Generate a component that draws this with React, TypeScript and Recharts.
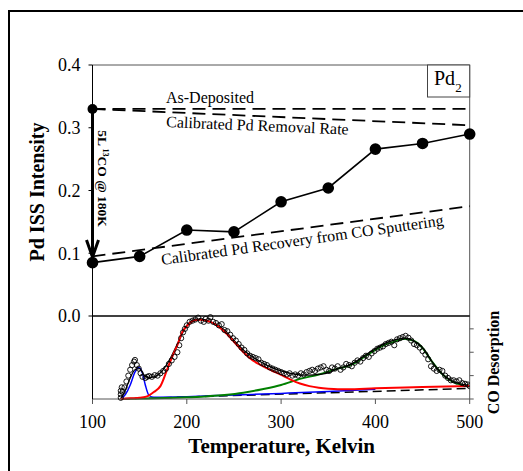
import React from "react";
import {
  LineChart,
  Line,
  XAxis,
  YAxis,
  ReferenceLine,
  ComposedChart,
  Scatter,
} from "recharts";

const FONT = "'Liberation Serif', 'Times New Roman', serif";

// upper panel: Pd ISS intensity vs temperature
const temps = [100, 150, 200, 250, 300, 350, 400, 450, 500];
const pdIss = [0.085, 0.095, 0.137, 0.134, 0.182, 0.204, 0.266, 0.275, 0.29];

const asDeposited = [
  { t: 100, v: 0.33 },
  { t: 500, v: 0.33 },
];
const removalRate = [
  { t: 100, v: 0.33 },
  { t: 500, v: 0.304 },
];
const recovery = [
  { t: 100, v: 0.095 },
  { t: 500, v: 0.175 },
];
const coDose = [
  { t: 100, v: 0.33 },
  { t: 100, v: 0.094 },
];
const issTicks = [0, 0.1, 0.2, 0.3, 0.4];
const tempTicks = [100, 200, 300, 400, 500];

// lower panel: CO TPD (arb. units)
const tpdT = [
  130, 130, 130, 131, 132, 134, 136, 138, 140, 142, 144, 145, 147, 149, 151, 153, 156, 158, 160, 163,
  166, 169, 172, 175, 178, 181, 184, 187, 190, 192, 194, 196, 198, 200, 203, 206, 209, 212, 215, 218,
  220, 223, 225, 228, 231, 234, 237, 240, 243, 246, 249, 252, 255, 258, 261, 264, 267, 270, 273, 276,
  279, 282, 285, 288, 291, 294, 297, 300, 303, 306, 309, 312, 315, 318, 321, 324, 327, 330, 333, 336,
  339, 342, 345, 348, 351, 354, 357, 360, 363, 366, 369, 372, 375, 378, 381, 384, 387, 390, 393, 396,
  399, 402, 405, 408, 411, 414, 417, 420, 423, 426, 429, 432, 435, 438, 441, 444, 447, 450, 453, 456,
  459, 462, 465, 468, 471, 474, 477, 480, 483, 486, 489, 492, 495, 498, 500,
];
const tpdSignal = [
  0.05, 0.2, 0.35, 0.5, 0.3, 0.5, 0.75, 1.0, 1.25, 1.45, 1.6, 1.67, 1.45, 1.3, 1.1, 0.95, 0.9, 0.95, 0.98, 0.95,
  1.02, 1.0, 1.1, 1.2, 1.3, 1.5, 1.65, 1.8, 2.0, 2.3, 2.6, 2.85, 3.0, 3.15, 3.3, 3.35, 3.4, 3.48, 3.35, 3.3,
  3.42, 3.35, 3.5, 3.3, 3.25, 3.15, 3.2, 2.95, 2.9, 2.75, 2.6, 2.5, 2.35, 2.2, 2.1, 1.95, 1.85, 1.8, 1.75, 1.7,
  1.55, 1.5, 1.45, 1.35, 1.3, 1.25, 1.2, 1.15, 1.1, 1.05, 1.1, 1.0, 1.05, 1.0, 1.1, 1.05, 1.15, 1.2, 1.25, 1.2,
  1.3, 1.35, 1.4, 1.25, 1.2, 1.35, 1.3, 1.4, 1.25, 1.35, 1.5, 1.45, 1.4, 1.55, 1.65, 1.6, 1.75, 1.85, 1.8, 1.95,
  2.05, 2.15, 2.2, 2.25, 2.35, 2.4, 2.45, 2.3, 2.55, 2.6, 2.65, 2.7, 2.62, 2.5, 2.35, 2.3, 2.2, 2.05, 1.9, 1.7,
  1.4, 1.3, 1.2, 1.25, 1.2, 1.0, 0.9, 0.8, 0.8, 0.75, 0.8, 0.68, 0.65, 0.62, 0.55,
];

const fitT = [130, 135, 140, 145, 150, 155, 160, 165, 170, 180, 190, 200, 210, 220, 230, 240, 250, 260, 270, 280, 290, 300, 310, 320, 330, 340, 350, 360, 370, 380, 390, 400, 410, 420, 430, 440, 450, 460, 470, 480, 490, 500];
const fitTotal = [0, 0.4, 0.9, 1.25, 1.3, 1.0, 0.92, 0.95, 1.05, 1.55, 2.35, 3.15, 3.42, 3.38, 3.2, 2.95, 2.5, 2.1, 1.8, 1.55, 1.35, 1.2, 1.1, 1.03, 1.02, 1.05, 1.12, 1.3, 1.42, 1.62, 1.9, 2.15, 2.38, 2.52, 2.6, 2.5, 2.2, 1.6, 1.1, 0.8, 0.65, 0.58];

const redT = [130, 140, 150, 157, 165, 172, 180, 185, 190, 195, 200, 205, 210, 215, 220, 225, 230, 235, 240, 250, 260, 270, 280, 290, 300, 310, 320, 330, 340, 350, 360, 370, 400, 450, 500];
const redFit = [0, 0.03, 0.05, 0.1, 0.3, 0.55, 1.35, 1.85, 2.3, 2.85, 3.12, 3.3, 3.38, 3.39, 3.36, 3.3, 3.2, 3.05, 2.88, 2.45, 2.0, 1.65, 1.42, 1.22, 1.03, 0.83, 0.66, 0.55, 0.48, 0.44, 0.42, 0.42, 0.46, 0.51, 0.56];

const blueT = [130, 135, 140, 145, 149, 153, 156, 160, 165, 200, 250, 300, 350, 400];
const blueFit = [0, 0.2, 0.6, 1.15, 1.35, 1.1, 0.6, 0.15, 0.08, 0.1, 0.17, 0.24, 0.32, 0.42];

const greenT = [130, 150, 200, 240, 260, 280, 300, 320, 340, 360, 370, 380, 390, 400, 410, 420, 430, 440, 450, 460, 470, 480, 490, 500];
const greenFit = [0, 0.02, 0.07, 0.17, 0.27, 0.42, 0.6, 0.86, 1.05, 1.3, 1.4, 1.58, 1.85, 2.1, 2.32, 2.45, 2.58, 2.5, 2.18, 1.6, 1.1, 0.78, 0.62, 0.55];

const baseT = [130, 500];
const baseFit = [0, 0.45];
const tpdTicks = [0, 1, 2, 3];

const zip = (xs: number[], ys: number[]) => xs.map((t, i) => ({ t, v: ys[i] }));

const issData = zip(temps, pdIss);
const signalData = zip(tpdT, tpdSignal);

const OpenCircle = (p: any) => (
  <circle cx={p.cx} cy={p.cy} r={2.6} fill="none" stroke="#000" strokeWidth={0.9} />
);

const ArrowDot = (p: any) => {
  const { cx, cy, index } = p;
  if (index === 0) return <circle key={index} cx={cx} cy={cy} r={5} fill="#000" />;
  return (
    <polyline
      key={index}
      points={`${cx - 6},${cy - 17} ${cx},${cy} ${cx + 6},${cy - 17}`}
      fill="none"
      stroke="#000"
      strokeWidth={3}
    />
  );
};

const tickStyle = { fontSize: 18, fill: "#000", fontFamily: FONT };

export default function App() {
  return (
    <div
      style={{
        position: "absolute",
        left: 0,
        top: 0,
        width: 523,
        height: 471,
        overflow: "hidden",
        background: "#fff",
        fontFamily: FONT,
      }}
    >
      <div
        style={{
          position: "absolute",
          left: 8,
          top: 10,
          width: 600,
          height: 600,
          border: "2px solid #000",
        }}
      />

      {/* lower panel */}
      <div style={{ position: "absolute", left: 0, top: 0 }}>
        <ComposedChart width={523} height={471} margin={{ top: 316, right: 43.3, bottom: 42, left: 0 }}>
          <XAxis
            type="number"
            dataKey="t"
            domain={[100, 500]}
            ticks={tempTicks}
            height={30}
            stroke="#555"
            tickSize={5}
            tickMargin={11}
            tick={tickStyle}
            allowDataOverflow
          />
          <YAxis
            yAxisId="l"
            type="number"
            domain={[0, 3.55]}
            width={92.5}
            tick={false}
            tickLine={false}
            stroke="#000"
          />
          <YAxis
            yAxisId="r"
            orientation="right"
            type="number"
            domain={[0, 3.55]}
            ticks={tpdTicks}
            width={10}
            tickSize={4}
            tickFormatter={() => ""}
            stroke="#555"
          />
          <Line yAxisId="r" data={zip(baseT, baseFit)} dataKey="v" stroke="#000" strokeWidth={1.5} strokeDasharray="9 5" dot={false} isAnimationActive={false} />
          <Line yAxisId="r" data={zip(blueT, blueFit)} dataKey="v" type="monotone" stroke="#0000ff" strokeWidth={1.5} dot={false} isAnimationActive={false} />
          <Line yAxisId="r" data={zip(greenT, greenFit)} dataKey="v" type="monotone" stroke="#008000" strokeWidth={2} dot={false} isAnimationActive={false} />
          <Line yAxisId="r" data={zip(fitT, fitTotal)} dataKey="v" type="monotone" stroke="#000" strokeWidth={1.3} dot={false} isAnimationActive={false} />
          <Line yAxisId="r" data={zip(redT, redFit)} dataKey="v" type="monotone" stroke="#ff0000" strokeWidth={2} dot={false} isAnimationActive={false} />
          <Scatter yAxisId="r" data={signalData} dataKey="v" shape={OpenCircle} isAnimationActive={false} />
        </ComposedChart>
      </div>

      {/* upper panel */}
      <div style={{ position: "absolute", left: 0, top: 0 }}>
        <LineChart width={523} height={471} margin={{ top: 65, right: 53.3, bottom: 155, left: 0 }}>
          <XAxis type="number" dataKey="t" domain={[100, 500]} hide height={0} />
          <YAxis
            type="number"
            domain={[0, 0.4]}
            ticks={issTicks}
            width={92.5}
            stroke="#000"
            tickSize={4}
            tickMargin={8}
            tick={tickStyle}
            tickFormatter={(v: number) => v.toFixed(1)}
          />
          <ReferenceLine y={0.4} stroke="#555" />
          <ReferenceLine x={500} stroke="#555" />
          <ReferenceLine y={0} stroke="#000" strokeWidth={1.6} />
          <Line data={asDeposited} dataKey="v" stroke="#000" strokeWidth={1.8} strokeDasharray="13 7" dot={false} isAnimationActive={false} />
          <Line data={removalRate} dataKey="v" stroke="#000" strokeWidth={1.8} strokeDasharray="13 7" dot={false} isAnimationActive={false} />
          <Line data={recovery} dataKey="v" stroke="#000" strokeWidth={1.8} strokeDasharray="13 7" dot={false} isAnimationActive={false} />
          <Line data={coDose} dataKey="v" stroke="#000" strokeWidth={3} dot={ArrowDot} isAnimationActive={false} />
          <Line data={issData} dataKey="v" stroke="#000" strokeWidth={1.6} dot={{ r: 5, fill: "#000", stroke: "#000" }} isAnimationActive={false} />
        </LineChart>
      </div>

      {/* annotations */}
      <svg
        width={523}
        height={471}
        style={{ position: "absolute", left: 0, top: 0, pointerEvents: "none", fontFamily: FONT }}
      >
        <rect x={427.5} y={65} width={42.2} height={32} fill="#fff" stroke="#444" strokeWidth={1} />
        <text x={434} y={85} fontSize={20} fill="#000">
          Pd<tspan fontSize={13} dy={7}>2</tspan>
        </text>

        <text x={166} y={103} fontSize={16} fill="#000">As-Deposited</text>
        <text x={166} y={127} fontSize={16} fill="#000" transform="rotate(2.4 166 127)">
          Calibrated Pd Removal Rate
        </text>
        <text x={162} y={265} fontSize={16} fill="#000" transform="rotate(-8 162 265)">
          Calibrated Pd Recovery from CO Sputtering
        </text>
        <text
          x={103}
          y={178.5}
          dy="0.35em"
          fontSize={13.5}
          fontWeight="bold"
          textAnchor="middle"
          fill="#000"
          transform="rotate(90 103 178.5)"
        >
          5L <tspan fontSize={8} dy={-5}>13</tspan>
          <tspan dy={5}>CO @ 180K</tspan>
        </text>

        <text
          x={37}
          y={192}
          dy="0.35em"
          fontSize={20}
          fontWeight="bold"
          textAnchor="middle"
          fill="#000"
          transform="rotate(-90 37 192)"
        >
          Pd ISS Intensity
        </text>
        <text x={281.7} y={453} fontSize={21} fontWeight="bold" textAnchor="middle" fill="#000">
          Temperature, Kelvin
        </text>
        <text
          x={493.5}
          y={362.5}
          dy="0.35em"
          fontSize={16}
          fontWeight="bold"
          textAnchor="middle"
          fill="#000"
          transform="rotate(-90 493.5 362.5)"
        >
          CO Desorption
        </text>
      </svg>
    </div>
  );
}
